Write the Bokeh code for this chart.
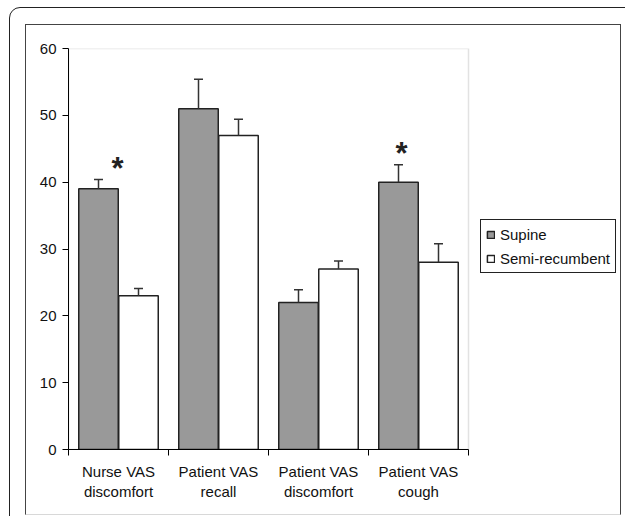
from bokeh.plotting import figure
from bokeh.models import (ColumnDataSource, Range1d, FixedTicker, Whisker, TeeHead,
                          Legend, LegendItem, InlineStyleSheet, BoxAnnotation)
from bokeh.core.properties import value
from bokeh.embed import file_html
from bokeh.resources import INLINE
import numpy as np

# ---- data ----
categories = ["Nurse VAS\ndiscomfort", "Patient VAS\nrecall", "Patient VAS\ndiscomfort", "Patient VAS\ncough"]
supine = [39, 51, 22, 40]
supine_sem = [1.4, 4.4, 1.9, 2.6]
semi = [23, 47, 27, 28]
semi_sem = [1.1, 2.4, 1.2, 2.8]
series_names = ["Supine", "Semi-recumbent"]
y_ticks = [0, 10, 20, 30, 40, 50, 60]
significant = [0, 3]          # categories marked with *

FONT = "Liberation Sans"
FS = "15px"

ncat = len(categories)
idx = np.arange(ncat)
centers = idx + 0.5
off = 0.2
bw = 0.395

# layout: plot area is 400 px wide, the frame extends to the right edge (legend area)
W, H = 625, 516
LEFT, TOP, BOTTOM = 68, 48, 67
PLOT_W = 400
frame_w = W - LEFT
x_end = ncat * frame_w / PLOT_W

src_sup = ColumnDataSource(dict(x=centers - off, top=supine,
                                upper=np.array(supine) + np.array(supine_sem)))
src_semi = ColumnDataSource(dict(x=centers + off, top=semi,
                                 upper=np.array(semi) + np.array(semi_sem)))

p = figure(width=W, height=H, output_backend="svg", toolbar_location=None,
           x_range=Range1d(0, x_end), y_range=Range1d(0, y_ticks[-1]),
           min_border_left=LEFT, min_border_right=0, min_border_top=TOP, min_border_bottom=BOTTOM,
           background_fill_color="white", border_fill_color="white")
p.grid.visible = False
p.outline_line_color = None

# plot-area outline (grey top/right edges)
p.add_layout(BoxAnnotation(left=0, right=ncat, bottom=0, top=y_ticks[-1], fill_color=None,
                           line_color="#a0a0a0", line_width=1.5, level="underlay"))

r1 = p.vbar(x="x", top="top", width=bw, source=src_sup, fill_color="#999999",
            line_color="#222222", line_width=1.5)
r2 = p.vbar(x="x", top="top", width=bw, source=src_semi, fill_color="white",
            line_color="#222222", line_width=1.5)

for s in (src_sup, src_semi):
    w = Whisker(source=s, base="x", lower="top", upper="upper", dimension="height",
                upper_head=TeeHead(size=9, line_width=1.5, line_color="#333333"),
                lower_head=None, line_width=1.5, line_color="#333333", level="annotation")
    p.add_layout(w)

# asterisks on the supine bars' error bars
star_x = [centers[i] - off + (0.19 if i == 0 else 0.03) for i in significant]
star_y = [supine[i] + supine_sem[i] for i in significant]
p.text(x=star_x, y=star_y, text=["*"] * len(significant), text_align="center",
       text_baseline="alphabetic", text_font=value(FONT), text_font_size="31px",
       text_font_style="bold", text_color="#222222", y_offset=-11)

# axes
xa = p.xaxis[0]
xa.bounds = (0, ncat)
xa.ticker = FixedTicker(ticks=list(centers), minor_ticks=list(map(float, np.arange(ncat + 1))))
xa.major_label_overrides = {float(c): lab for c, lab in zip(centers, categories)}
xa.major_tick_line_color = None
xa.major_tick_out = 0
xa.major_tick_in = 0
xa.minor_tick_line_color = "black"
xa.minor_tick_out = 6
xa.minor_tick_in = 0
xa.axis_line_color = "black"
xa.major_label_standoff = 7
xa.major_label_text_font = FONT
xa.major_label_text_font_size = FS
xa.major_label_text_color = "#111111"

ya = p.yaxis[0]
ya.ticker = FixedTicker(ticks=y_ticks)
ya.minor_tick_line_color = None
ya.major_tick_out = 6
ya.major_tick_in = 0
ya.major_tick_line_color = "black"
ya.axis_line_color = "black"
ya.major_label_standoff = 6
ya.major_label_text_font = FONT
ya.major_label_text_font_size = FS
ya.major_label_text_color = "#111111"

legend = Legend(items=[LegendItem(label=series_names[0], renderers=[r1]),
                       LegendItem(label=series_names[1], renderers=[r2])],
                location=(412, 176), orientation="vertical",
                label_text_font=FONT, label_text_font_size=FS, label_text_color="#111111",
                glyph_width=9, glyph_height=9, label_height=18, spacing=6, padding=5,
                margin=0, label_standoff=5, border_line_color="#222222",
                border_line_alpha=1.0, border_line_width=1.5,
                background_fill_color="white", background_fill_alpha=1.0)
p.add_layout(legend, "center")

# page frames (outer rounded panel and inner box), drawn with CSS
p.stylesheets = [InlineStyleSheet(css="""
:host { position: relative; overflow: hidden; }
:host::before { content: ''; position: absolute; left: 9px; top: 6.5px; width: 700px; height: 700px;
  border: 1.5px solid #222; border-radius: 11px; pointer-events: none; z-index: 10; }
:host::after { content: ''; position: absolute; left: 25px; top: 23.5px; width: 594px; height: 489px;
  border: 1.5px solid #444; border-bottom-color: #d8d8d8; pointer-events: none; z-index: 10; }
""")]

open("out.html", "w").write(file_html(p, INLINE))
